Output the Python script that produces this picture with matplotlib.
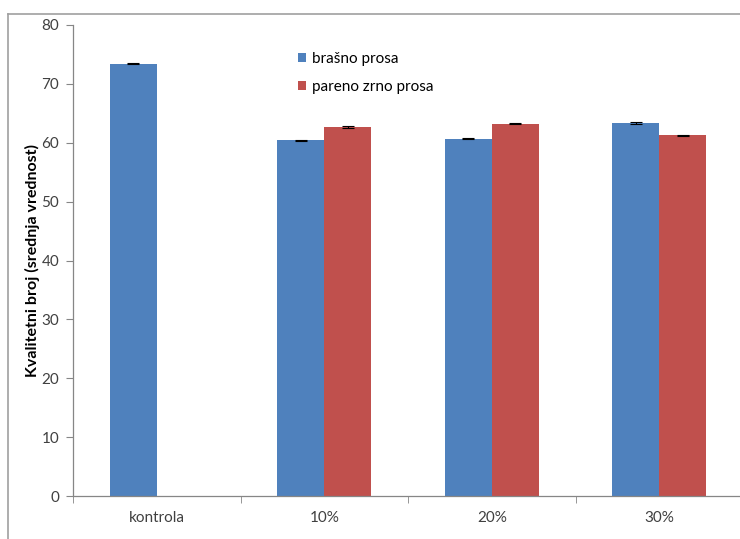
import numpy as np
import matplotlib.pyplot as plt
from matplotlib.patches import Patch
from matplotlib.lines import Line2D

categories = ["kontrola", "10%", "20%", "30%"]
brasno = [73.4, 60.4, 60.7, 63.3]
brasno_err = [0.1, 0.1, 0.1, 0.15]
pareno = [np.nan, 62.7, 63.2, 61.3]
pareno_err = [np.nan, 0.15, 0.1, 0.1]

blue = "#4f81bd"
red = "#c0504d"
axis_gray = "#868686"
text_gray = "#404040"

plt.rcParams["font.family"] = ["Lato", "DejaVu Sans"]

fig = plt.figure(figsize=(7.4, 5.39), dpi=100)
# plot area runs off the right edge, the way the original page was cut
ax = fig.add_axes([73 / 740, 43 / 539, 670 / 740, 471 / 539])

x = np.arange(len(categories))
w = 0.28
ax.bar(x - w / 2, brasno, w, color=blue, zorder=2)
ax.bar(x + w / 2, pareno, w, color=red, zorder=2)
ax.errorbar(x - w / 2, brasno, yerr=brasno_err, fmt="none", ecolor="black",
            elinewidth=0.8, capsize=4, capthick=0.8, zorder=3)
ax.errorbar(x + w / 2, pareno, yerr=pareno_err, fmt="none", ecolor="black",
            elinewidth=0.8, capsize=4, capthick=0.8, zorder=3)

ax.set_xlim(-0.5, len(categories) - 0.5)
ax.set_ylim(0, 80)
ax.set_yticks(np.arange(0, 81, 10))

ax.set_xticks(x)
ax.set_xticklabels(categories, fontsize=11, color=text_gray)
ax.set_xticks(np.arange(-0.5, len(categories)), minor=True)
ax.tick_params(axis="x", which="major", length=0, pad=11)
ax.tick_params(axis="x", which="minor", length=5, color=axis_gray, direction="out")
ax.tick_params(axis="y", length=5, color=axis_gray, labelsize=11,
               labelcolor=text_gray, pad=5)

for side in ["top", "right"]:
    ax.spines[side].set_visible(False)
for side in ["left", "bottom"]:
    ax.spines[side].set_color(axis_gray)
    ax.spines[side].set_linewidth(0.9)

ax.set_ylabel("Kvalitetni broj (srednja vrednost)", fontsize=11.5,
              fontweight="bold", color="black", labelpad=1)

handles = [Patch(facecolor=blue, label="brašno prosa"),
           Patch(facecolor=red, label="pareno zrno prosa")]
ax.legend(handles=handles, loc="upper left", bbox_to_anchor=(284 / 740, 1 - 38 / 539),
          bbox_transform=fig.transFigure, frameon=False, fontsize=11,
          handlelength=0.55, handleheight=0.55, handletextpad=0.4,
          labelspacing=0.95, labelcolor="black")

# outer chart frame (top and left edges visible)
fig.add_artist(Line2D([8 / 740, 1.0], [1 - 13.5 / 539, 1 - 13.5 / 539],
                      transform=fig.transFigure, color="#a0a0a0", linewidth=1.2))
fig.add_artist(Line2D([8 / 740, 8 / 740], [0.0, 1 - 13.5 / 539],
                      transform=fig.transFigure, color="#a0a0a0", linewidth=1.2))

fig.savefig("out.png", dpi=100)
